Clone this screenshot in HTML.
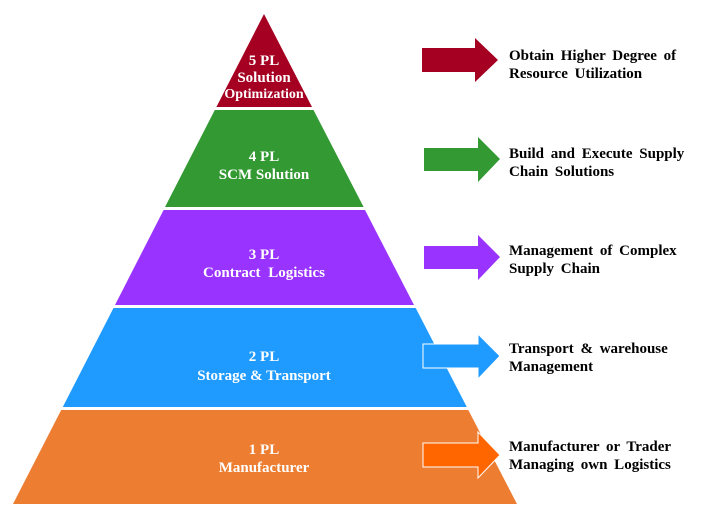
<!DOCTYPE html>
<html><head><meta charset="utf-8"><style>
html,body{margin:0;padding:0;background:#fff;width:714px;height:511px;overflow:hidden}
svg{display:block}
.w{fill:#fff;font-family:"Liberation Serif",serif;font-weight:bold;font-size:15px;text-anchor:middle}
.b{fill:#000;font-family:"Liberation Serif",serif;font-weight:bold;font-size:15px;word-spacing:3px}
</style></head><body>
<svg width="714" height="511" viewBox="0 0 714 511">
<polygon points="264,14 312,107 216.4,107" fill="#a50021"/>
<polygon points="214.8,110 313.5,110 363.6,207 165,207" fill="#339933"/>
<polygon points="163.6,210 365,210 414,305 115,305" fill="#9933ff"/>
<polygon points="113.5,308 415.7,308 466.8,407 62.8,407" fill="#1f9bff"/>
<polygon points="61.2,410 468.3,410 517,504 13,504" fill="#ed7d31"/>

<text class="w" x="264" y="65">5 PL</text>
<text class="w" x="264" y="82">Solution</text>
<text class="w" x="264" y="98" style="font-size:14px">Optimization</text>
<text class="w" x="264" y="161">4 PL</text>
<text class="w" x="264" y="179">SCM Solution</text>
<text class="w" x="264" y="259">3 PL</text>
<text class="w" x="264" y="277" style="word-spacing:4px">Contract Logistics</text>
<text class="w" x="264" y="361">2 PL</text>
<text class="w" x="264" y="380">Storage &amp; Transport</text>
<text class="w" x="264" y="454">1 PL</text>
<text class="w" x="264" y="472">Manufacturer</text>

<polygon points="422,48 475,48 475,38 498,60 475,82 475,72 422,72" fill="#a50021"/>
<polygon points="424,148 478,148 478,137 500,159 478,182 478,171 424,171" fill="#339933"/>
<polygon points="424,246 478,246 478,235 500,257 478,280 478,269 424,269" fill="#9933ff"/>
<polygon points="423,344 478,344 478,334 500,356 478,379 478,368 423,368" fill="#1f9bff" stroke="#fff" stroke-width="1"/>
<polygon points="423,443 478,443 478,432 500,455 478,478 478,467 423,467" fill="#ff6600" stroke="#fff" stroke-width="1"/>

<text class="b" x="509" y="60">Obtain Higher Degree of</text>
<text class="b" x="509" y="78">Resource Utilization</text>
<text class="b" x="509" y="158">Build and Execute Supply</text>
<text class="b" x="509" y="176">Chain Solutions</text>
<text class="b" x="509" y="255">Management of Complex</text>
<text class="b" x="509" y="273">Supply Chain</text>
<text class="b" x="509" y="353">Transport &amp; warehouse</text>
<text class="b" x="509" y="371">Management</text>
<text class="b" x="509" y="451">Manufacturer or Trader</text>
<text class="b" x="509" y="469">Managing own Logistics</text>
</svg>
</body></html>
